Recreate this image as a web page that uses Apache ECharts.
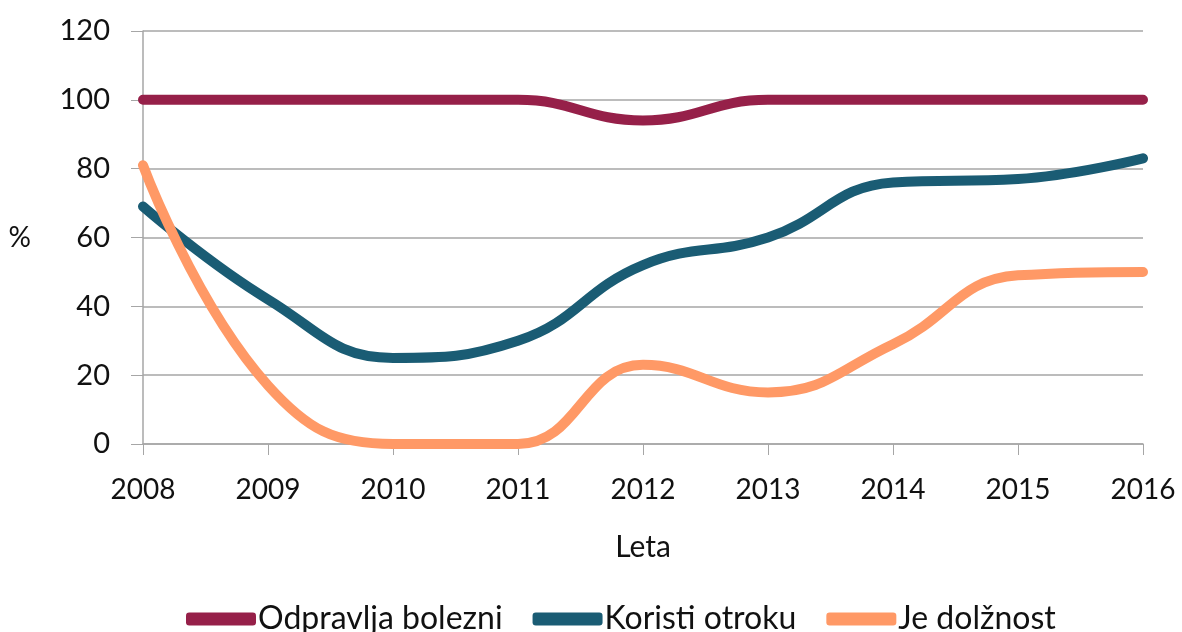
<!DOCTYPE html>
<html><head><meta charset="utf-8">
<script src="https://cdn.jsdelivr.net/npm/echarts@6/dist/echarts.min.js"></script>
<style>html,body{margin:0;padding:0;background:#fff}#c{width:1182px;height:632px}</style>
</head><body><div id="c"></div>
<script>
const years = ['2008','2009','2010','2011','2012','2013','2014','2015','2016'];
const odpravlja = [100,100,100,100,94,100,100,100,100];
const koristi = [69,42,25,30,52,60,76,77,83];
const dolznost = [81,17,0,0,23,15,29,49,50];
const seriesNames = ['Odpravlja bolezni','Koristi otroku','Je dolžnost'];
const colors = ['#962049','#1A5C74','#FF9966'];
const font = 'Lato, "Open Sans", sans-serif';
const chart = echarts.init(document.getElementById('c'));
const mk = (name, data, i) => ({
  name, type:'line', data, smooth:0.45, symbol:'none',
  lineStyle:{width:10, color:colors[i], cap:'round'}, itemStyle:{color:colors[i]}
});
chart.setOption({
  animation:false,
  textStyle:{fontFamily:font},
  grid:{left:143,right:39,top:31,bottom:188},
  legend:{bottom:-3,left:186,padding:0,itemWidth:70,itemHeight:13,itemGap:30,icon:'roundRect',
    textStyle:{fontSize:32,color:'#111',fontFamily:font,padding:[0,0,0,-3]},
    data:seriesNames},
  xAxis:{type:'category',data:years,boundaryGap:false,
    name:'Leta',nameLocation:'middle',nameGap:88,nameTextStyle:{fontSize:30,color:'#111'},
    axisLine:{lineStyle:{color:'#A6A6A6',width:1.5}},
    axisTick:{show:true,length:11,lineStyle:{color:'#A6A6A6'}},
    axisLabel:{fontSize:28,color:'#111',margin:32}},
  yAxis:{type:'value',min:0,max:120,interval:20,
    name:'%',nameLocation:'middle',nameGap:112,nameRotate:0,nameTextStyle:{fontSize:28,color:'#111'},
    axisLine:{show:true,lineStyle:{color:'#A6A6A6',width:1.5}},
    axisTick:{show:true,length:12,lineStyle:{color:'#A6A6A6'}},
    splitLine:{lineStyle:{color:'#A6A6A6',width:1.5}},
    axisLabel:{fontSize:29,color:'#111',margin:33}},
  series:[mk(seriesNames[0],odpravlja,0),mk(seriesNames[1],koristi,1),mk(seriesNames[2],dolznost,2)]
});
</script></body></html>
